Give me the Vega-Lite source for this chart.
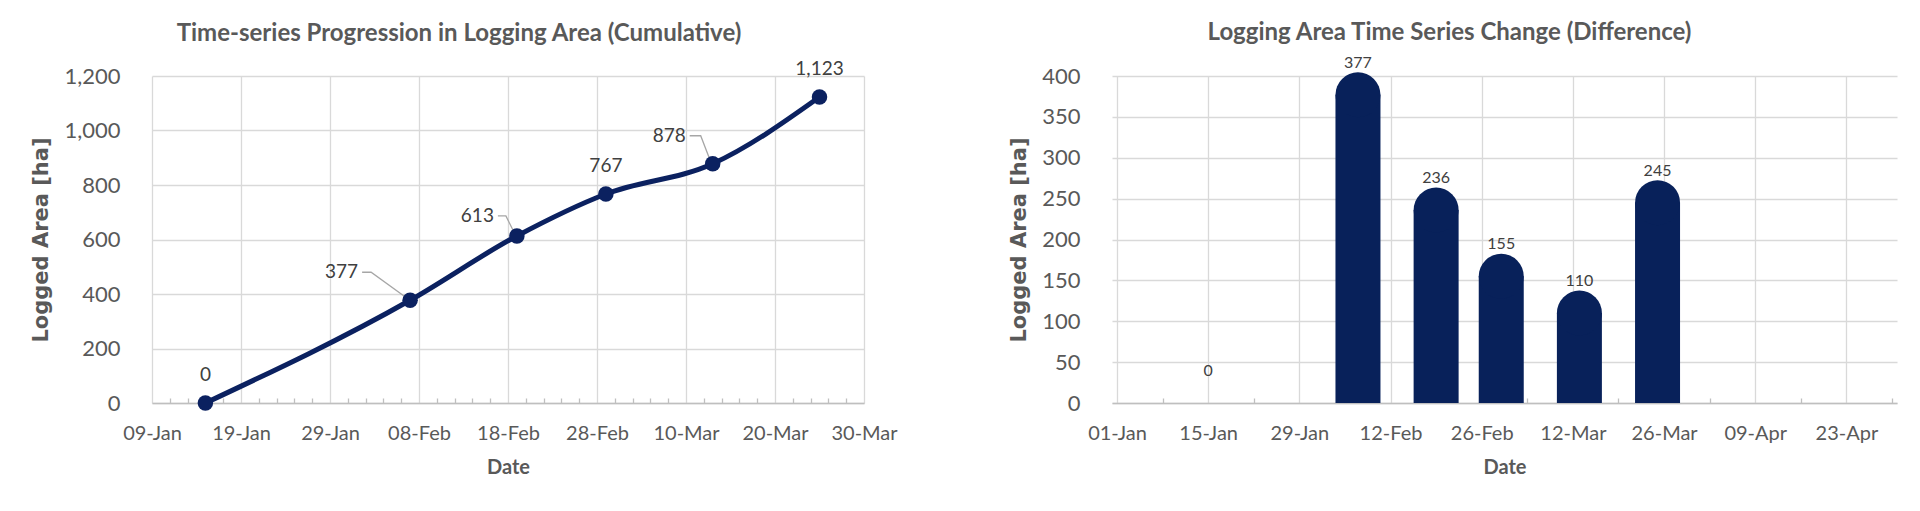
{
  "$schema": "https://vega.github.io/schema/vega-lite/v6.json",
  "background": "white",
  "padding": {"left": 30, "top": 20, "right": 20, "bottom": 5},
  "datasets": {
    "cumulative": [
      {"date": "2023-01-15T00:00:00", "area": 0},
      {"date": "2023-02-07T00:00:00", "area": 377},
      {"date": "2023-02-19T00:00:00", "area": 613},
      {"date": "2023-03-01T00:00:00", "area": 767},
      {"date": "2023-03-13T00:00:00", "area": 878},
      {"date": "2023-03-25T00:00:00", "area": 1123}
    ],
    "difference": [
      {"date": "2023-01-15T00:00:00", "change": 0},
      {"date": "2023-02-07T00:00:00", "change": 377},
      {"date": "2023-02-19T00:00:00", "change": 236},
      {"date": "2023-03-01T00:00:00", "change": 155},
      {"date": "2023-03-13T00:00:00", "change": 110},
      {"date": "2023-03-25T00:00:00", "change": 245}
    ]
  },
  "bounds": "flush",
  "spacing": 248,
  "hconcat": [
    {
      "width": 712,
      "height": 327,
      "title": {"text": "Time-series Progression in Logging Area (Cumulative)", "offset": 14, "dx": -49},
      "data": {"name": "cumulative"},
      "resolve": {"axis": {"x": "independent"}},
      "layer": [
        {
          "mark": {"type": "line", "color": "#0B2160", "strokeWidth": 5, "interpolate": "monotone"},
          "encoding": {
            "x": {
              "field": "date", "type": "temporal",
              "scale": {"domain": [{"year": 2023, "month": 1, "date": 9}, {"year": 2023, "month": 3, "date": 30}]},
              "axis": {
                "values": [
                  {"year": 2023, "month": 1, "date": 9}, {"year": 2023, "month": 1, "date": 19},
                  {"year": 2023, "month": 1, "date": 29}, {"year": 2023, "month": 2, "date": 8},
                  {"year": 2023, "month": 2, "date": 18}, {"year": 2023, "month": 2, "date": 28},
                  {"year": 2023, "month": 3, "date": 10}, {"year": 2023, "month": 3, "date": 20},
                  {"year": 2023, "month": 3, "date": 30}
                ],
                "format": "%d-%b", "ticks": false, "grid": true, "labelPadding": 20,
                "labelOverlap": false, "labelFlush": false,
                "title": "Date", "titlePadding": 14
              }
            },
            "y": {
              "field": "area", "type": "quantitative",
              "scale": {"domain": [0, 1200]},
              "axis": {
                "values": [0, 200, 400, 600, 800, 1000, 1200],
                "format": ",d", "grid": true, "ticks": false, "domain": false,
                "labelFontSize": 22, "labelPadding": 32,
                "title": "Logged Area [ha]", "titlePadding": 12,
                "titleFont": "DejaVu Sans", "titleFontSize": 21, "titleFontWeight": "bold"
              }
            }
          }
        },
        {
          "transform": [{"filter": "datum.area == 377"}],
          "mark": {"type": "point", "shape": "M -48 -28 L -39 -28 L -3 -2", "size": 4, "filled": false, "color": "#A6A6A6", "strokeWidth": 1.3, "opacity": 1},
          "encoding": {
            "x": {"field": "date", "type": "temporal", "axis": null},
            "y": {"field": "area", "type": "quantitative"}
          }
        },
        {
          "transform": [{"filter": "datum.area == 613"}],
          "mark": {"type": "point", "shape": "M -19 -20 L -11 -20 L -3 -4", "size": 4, "filled": false, "color": "#A6A6A6", "strokeWidth": 1.3, "opacity": 1},
          "encoding": {
            "x": {"field": "date", "type": "temporal", "axis": null},
            "y": {"field": "area", "type": "quantitative"}
          }
        },
        {
          "transform": [{"filter": "datum.area == 878"}],
          "mark": {"type": "point", "shape": "M -23 -28 L -12 -28 L -2 -2", "size": 4, "filled": false, "color": "#A6A6A6", "strokeWidth": 1.3, "opacity": 1},
          "encoding": {
            "x": {"field": "date", "type": "temporal", "axis": null},
            "y": {"field": "area", "type": "quantitative"}
          }
        },
        {
          "mark": {"type": "point", "shape": "circle", "filled": true, "size": 240, "strokeWidth": 0, "color": "#0B2160", "opacity": 1},
          "encoding": {
            "x": {
              "field": "date", "type": "temporal",
              "axis": {
                "orient": "bottom",
                "values": [
                  {"year": 2023, "month": 1, "date": 11}, {"year": 2023, "month": 1, "date": 13},
                  {"year": 2023, "month": 1, "date": 15}, {"year": 2023, "month": 1, "date": 17},
                  {"year": 2023, "month": 1, "date": 21}, {"year": 2023, "month": 1, "date": 23},
                  {"year": 2023, "month": 1, "date": 25}, {"year": 2023, "month": 1, "date": 27},
                  {"year": 2023, "month": 1, "date": 31}, {"year": 2023, "month": 2, "date": 2},
                  {"year": 2023, "month": 2, "date": 4}, {"year": 2023, "month": 2, "date": 6},
                  {"year": 2023, "month": 2, "date": 10}, {"year": 2023, "month": 2, "date": 12},
                  {"year": 2023, "month": 2, "date": 14}, {"year": 2023, "month": 2, "date": 16},
                  {"year": 2023, "month": 2, "date": 20}, {"year": 2023, "month": 2, "date": 22},
                  {"year": 2023, "month": 2, "date": 24}, {"year": 2023, "month": 2, "date": 26},
                  {"year": 2023, "month": 3, "date": 2}, {"year": 2023, "month": 3, "date": 4},
                  {"year": 2023, "month": 3, "date": 6}, {"year": 2023, "month": 3, "date": 8},
                  {"year": 2023, "month": 3, "date": 12}, {"year": 2023, "month": 3, "date": 14},
                  {"year": 2023, "month": 3, "date": 16}, {"year": 2023, "month": 3, "date": 18},
                  {"year": 2023, "month": 3, "date": 22}, {"year": 2023, "month": 3, "date": 24},
                  {"year": 2023, "month": 3, "date": 26}, {"year": 2023, "month": 3, "date": 28}
                ],
                "labels": false, "grid": false, "domain": false, "ticks": true, "tickSize": -5, "title": null
              }
            },
            "y": {"field": "area", "type": "quantitative"}
          }
        },
        {
          "transform": [{"filter": "datum.area == 0 || datum.area == 767 || datum.area == 1123"}],
          "mark": {"type": "text", "dy": -28, "fontSize": 19, "color": "#404040"},
          "encoding": {
            "x": {"field": "date", "type": "temporal", "axis": null},
            "y": {"field": "area", "type": "quantitative"},
            "text": {"field": "area", "type": "quantitative", "format": ",d"}
          }
        },
        {
          "transform": [{"filter": "datum.area == 377"}],
          "mark": {"type": "text", "align": "right", "dx": -52, "dy": -28, "fontSize": 19, "color": "#404040"},
          "encoding": {
            "x": {"field": "date", "type": "temporal", "axis": null},
            "y": {"field": "area", "type": "quantitative"},
            "text": {"field": "area", "type": "quantitative", "format": ",d"}
          }
        },
        {
          "transform": [{"filter": "datum.area == 613"}],
          "mark": {"type": "text", "align": "right", "dx": -23, "dy": -20, "fontSize": 19, "color": "#404040"},
          "encoding": {
            "x": {"field": "date", "type": "temporal", "axis": null},
            "y": {"field": "area", "type": "quantitative"},
            "text": {"field": "area", "type": "quantitative", "format": ",d"}
          }
        },
        {
          "transform": [{"filter": "datum.area == 878"}],
          "mark": {"type": "text", "align": "right", "dx": -27, "dy": -28, "fontSize": 19, "color": "#404040"},
          "encoding": {
            "x": {"field": "date", "type": "temporal", "axis": null},
            "y": {"field": "area", "type": "quantitative"},
            "text": {"field": "area", "type": "quantitative", "format": ",d"}
          }
        }
      ]
    },
    {
      "width": 785,
      "height": 327,
      "title": {"text": "Logging Area Time Series Change (Difference)", "offset": 10, "dx": -55},
      "data": {"name": "difference"},
      "resolve": {"axis": {"x": "independent"}},
      "layer": [
        {
          "mark": {"type": "bar", "width": 45, "color": "#08215A"},
          "encoding": {
            "x": {
              "field": "date", "type": "temporal",
              "scale": {"domain": [{"year": 2023, "month": 1, "date": 1}, {"year": 2023, "month": 4, "date": 30}]},
              "axis": {
                "values": [
                  {"year": 2023, "month": 1, "date": 1}, {"year": 2023, "month": 1, "date": 15},
                  {"year": 2023, "month": 1, "date": 29}, {"year": 2023, "month": 2, "date": 12},
                  {"year": 2023, "month": 2, "date": 26}, {"year": 2023, "month": 3, "date": 12},
                  {"year": 2023, "month": 3, "date": 26}, {"year": 2023, "month": 4, "date": 9},
                  {"year": 2023, "month": 4, "date": 23}
                ],
                "format": "%d-%b", "ticks": false, "grid": true, "labelPadding": 20,
                "labelOverlap": false, "labelFlush": false,
                "title": "Date", "titlePadding": 14
              }
            },
            "y": {
              "field": "change", "type": "quantitative",
              "scale": {"domain": [0, 400]},
              "axis": {
                "values": [0, 50, 100, 150, 200, 250, 300, 350, 400],
                "grid": true, "ticks": false, "domain": false,
                "labelFontSize": 22, "labelPadding": 32,
                "title": "Logged Area [ha]", "titlePadding": 12,
                "titleFont": "DejaVu Sans", "titleFontSize": 21, "titleFontWeight": "bold"
              }
            }
          }
        },
        {
          "transform": [{"filter": "datum.change > 0"}],
          "mark": {"type": "point", "shape": "circle", "filled": true, "size": 2025, "strokeWidth": 0, "color": "#08215A", "opacity": 1},
          "encoding": {
            "x": {
              "field": "date", "type": "temporal",
              "axis": {
                "orient": "bottom",
                "values": [
                  {"year": 2023, "month": 1, "date": 8}, {"year": 2023, "month": 1, "date": 22},
                  {"year": 2023, "month": 2, "date": 5}, {"year": 2023, "month": 2, "date": 19},
                  {"year": 2023, "month": 3, "date": 5}, {"year": 2023, "month": 3, "date": 19},
                  {"year": 2023, "month": 4, "date": 2}, {"year": 2023, "month": 4, "date": 16},
                  {"year": 2023, "month": 4, "date": 30}
                ],
                "labels": false, "grid": false, "domain": false, "ticks": true, "tickSize": -5, "title": null
              }
            },
            "y": {"field": "change", "type": "quantitative"}
          }
        },
        {
          "mark": {"type": "text", "dy": -32, "fontSize": 16, "color": "#404040"},
          "encoding": {
            "x": {"field": "date", "type": "temporal", "axis": null},
            "y": {"field": "change", "type": "quantitative"},
            "text": {"field": "change", "type": "quantitative"}
          }
        }
      ]
    }
  ],
  "config": {
    "view": {"stroke": null},
    "font": "Lato",
    "title": {"font": "Lato", "fontSize": 24, "fontWeight": "bold", "color": "#595959", "anchor": "middle"},
    "axis": {
      "labelFont": "Lato", "labelFontSize": 20, "labelColor": "#595959",
      "gridColor": "#D9D9D9", "gridWidth": 1.3, "domainColor": "#BFBFBF", "domainWidth": 1.3,
      "tickColor": "#BFBFBF", "tickWidth": 1.3,
      "titleFont": "Lato", "titleFontSize": 20, "titleFontWeight": "bold", "titleColor": "#595959"
    }
  }
}
